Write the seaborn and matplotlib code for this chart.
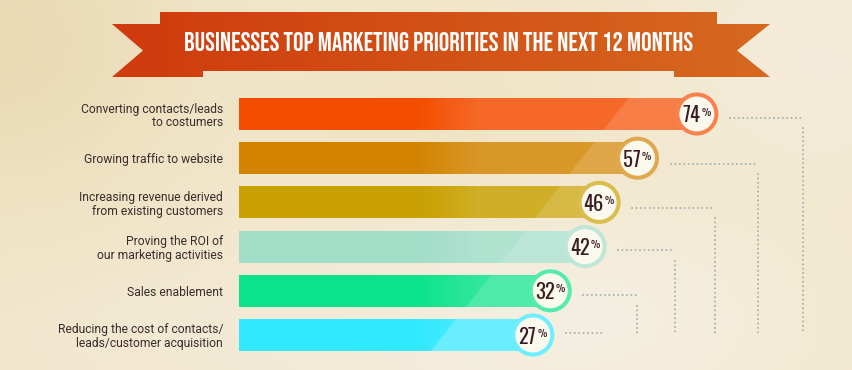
import numpy as np
import pandas as pd
import matplotlib
matplotlib.use("Agg")
import matplotlib.pyplot as plt
import seaborn as sns
from matplotlib.patches import Polygon
from matplotlib.colors import to_rgb
from matplotlib import font_manager as fm
from matplotlib.textpath import TextPath

# ---------------- data ----------------
categories = [
    "Converting contacts/leads\nto costumers",
    "Growing traffic to website",
    "Increasing revenue derived\nfrom existing customers",
    "Proving the ROI of\nour marketing activities",
    "Sales enablement",
    "Reducing the cost of contacts/\nleads/customer acquisition",
]
values = [74, 57, 46, 42, 32, 27]
value_labels = ["74", "57", "46", "42", "32", "27"]
bar_colors = ["#F44D00", "#D28400", "#C8A000", "#A2DDC8", "#0BE38A", "#30E8FF"]
title = "BUSINESSES TOP MARKETING PRIORITIES IN THE NEXT 12 MONTHS"

# ---------------- layout / style ----------------
W, H, DPI = 852, 370, 100
PT = 72 / DPI                   # points per pixel
PX0, PXS = 438.6, 3.49          # value -> pixel mapping of the reference
ROW0, ROWS = 114.0, 44.2        # row centre pixel mapping
BASE = (239 - PX0) / PXS        # bars start at the left edge of axes
XMAX = (W - PX0) / PXS
conn_end = [104.4, 91.5, 79.2, 67.7, 56.8, 47.7]
conn_dy = [0.08, 0.12, 0.12, 0.08, 0.1, -0.05]
BOTTOM_Y = 4.95
DOT_COLOR = "#A7B5AE"

_avail = {f.name for f in fm.fontManager.ttflist}
def pick(*cands):
    return [c for c in cands if c in _avail] + ["DejaVu Sans"]
TITLE_FONT = pick("Bebas Neue", "Oswald", "Liberation Sans Narrow")
NUM_FONT = pick("Oswald", "Pathway Gothic One", "Bebas Neue", "Liberation Sans Narrow")
NUM_WEIGHT = "light" if NUM_FONT[0] == "Oswald" else "normal"
LABEL_FONT = pick("Roboto", "Noto Sans")

def ink(s, family, weight="normal", size=100.0):
    p = TextPath((0, 0), s, size=size, prop=fm.FontProperties(family=family, weight=weight))
    e = p.get_extents()
    return e.width / size, e.height / size

sns.set_theme(style="white")
plt.rcParams["font.family"] = LABEL_FONT

fig = plt.figure(figsize=(W / DPI, H / DPI), dpi=DPI)

# ---------------- background (pixel coordinates) ----------------
bg = fig.add_axes([0, 0, 1, 1], zorder=0)
bg.set_xlim(0, W); bg.set_ylim(H, 0); bg.axis("off")
yy, xx = np.mgrid[0:H:2, 0:W:2].astype(float)
base = np.array(to_rgb("#F2E7CC"))
img = np.ones(xx.shape + (3,)) * base
def blob(cx, cy, rx, ry, col, strength):
    w = strength * np.exp(-(((xx - cx) / rx) ** 2 + ((yy - cy) / ry) ** 2))
    return w[..., None], np.array(to_rgb(col))
for cx, cy, rx, ry, col, s in [
    (0, 40, 180, 160, "#E8D7AE", 0.8),
    (560, 320, 260, 120, "#F5F0E4", 0.9),
    (820, 60, 160, 120, "#F4EEDF", 0.7),
    (250, 330, 200, 60, "#F2EBDA", 0.6),
    (420, 110, 140, 90, "#EEE0BE", 0.5),
]:
    w, c = blob(cx, cy, rx, ry, col, s)
    img = img * (1 - w) + c * w
bg.imshow(img, extent=(0, W, H, 0), aspect="auto", interpolation="bilinear", zorder=0)

# ---------------- banner ----------------
grad = np.linspace(0, 1, 256)[None, :, None]
c_l, c_r = np.array(to_rgb("#CF3A0E")), np.array(to_rgb("#D6691F"))
grad_img = c_l * (1 - grad) + c_r * grad
shapes = [
    [(112, 24), (203, 24), (203, 77), (112, 77), (143, 50.5)],
    [(674, 24), (770, 24), (737, 50.5), (770, 77), (674, 77)],
    [(160, 12), (717, 12), (717, 71), (160, 71)],
]
for k, pts in enumerate(shapes):
    poly = Polygon(pts, closed=True, facecolor="none", edgecolor="none")
    bg.add_patch(poly)
    im = bg.imshow(grad_img, extent=(112, 770, 77, 12), aspect="auto",
                   interpolation="bilinear", zorder=1 + k)
    im.set_clip_path(poly)
bg.set_xlim(0, W); bg.set_ylim(H, 0)

tw, th = ink(title, TITLE_FONT)
t_px = min(504 / tw, 19.5 / th)          # font size in px fitting width / cap height
bg.text(439, 42 + th * t_px / 2, title, color="white", ha="center", va="baseline",
        family=TITLE_FONT, fontsize=t_px * PT, zorder=5)

# ---------------- main chart ----------------
y_top, y_bot = ROW0 - ROWS / 2, ROW0 + 5 * ROWS + ROWS / 2
ax = fig.add_axes([239 / W, 1 - y_bot / H, (W - 239) / W, (y_bot - y_top) / H], zorder=2)
ax.patch.set_alpha(0)

df = pd.DataFrame({"cat": categories, "val": values})
sns.barplot(data=df, x="val", y="cat", hue="cat", palette=bar_colors, saturation=1,
            orient="h", legend=False, width=0.72, ax=ax)

bars = sorted(ax.patches, key=lambda p: p.get_y())
for p, v in zip(bars, values):
    p.set_x(BASE)
    p.set_width(v - BASE)
    p.set_edgecolor("none")

def light(c, a):
    c = np.array(to_rgb(c))
    return tuple(c + (1 - c) * a)

# gloss overlays
for i, (p, v) in enumerate(zip(bars, values)):
    y0, y1 = p.get_y(), p.get_y() + p.get_height()
    gx = np.linspace(BASE, v, 300)
    gy = np.linspace(y0, y1, 40)
    GX, GY = np.meshgrid(gx, gy)
    PX = PX0 + PXS * GX
    PY = ROW0 + ROWS * GY
    ramp = np.clip((PX - 415) / 65, 0, 1) * 0.16
    step = np.clip((PX - (628 - 0.78 * (PY - 97))) / 2.0, 0, 1) * 0.28
    alpha = np.maximum(ramp, step)
    rgba = np.ones(GX.shape + (4,))
    rgba[..., 3] = alpha
    im = ax.imshow(rgba, extent=(BASE, v, y1, y0), aspect="auto",
                   interpolation="bilinear", zorder=2)
    im.set_clip_path(p)

# dotted connectors
for i, v in enumerate(values):
    yc = (i + conn_dy[i]) if i < len(values) - 1 else BOTTOM_Y
    ax.plot([v + 9.5, conn_end[i]], [yc, yc], color=DOT_COLOR, lw=1.5,
            ls=(0, (0.01, 2.1)), dash_capstyle="round", zorder=1)
    if i < len(values) - 1:
        ax.plot([conn_end[i], conn_end[i]], [yc + 0.24, BOTTOM_Y], color=DOT_COLOR,
                lw=1.5, ls=(0, (0.01, 2.1)), dash_capstyle="round", zorder=1)

# circles with values
edge_cols = [light(c, 0.3) for c in bar_colors]
ax.scatter(values, range(len(values)), s=790, facecolor="#FBF8EE",
           edgecolors=edge_cols, linewidths=2.9, zorder=4)

DIG_H, PCT_H, PCT_W, GAP = 17.0, 12.0, 8.5, 1.0
_, dh = ink("0123456789", NUM_FONT, NUM_WEIGHT)
pw1, ph1 = ink("%", NUM_FONT, NUM_WEIGHT)
d_px = DIG_H / dh
p_px = min(PCT_H / ph1, PCT_W / pw1)
p_h = ph1 * p_px
for i, (v, lab) in enumerate(zip(values, value_labels)):
    wn = ink(lab, NUM_FONT, NUM_WEIGHT)[0] * d_px
    wp = pw1 * p_px
    left = -(wn + GAP + wp) / 2
    ax.annotate(lab, (v, i), xytext=((left + wn) * PT, -DIG_H / 2 * PT),
                textcoords="offset points", ha="right", va="baseline",
                family=NUM_FONT, weight=NUM_WEIGHT, fontsize=d_px * PT,
                color="#3A1C24", zorder=5)
    ax.annotate("%", (v, i), xytext=((left + wn + GAP) * PT, (DIG_H / 2 - 1.5 - p_h) * PT),
                textcoords="offset points", ha="left", va="baseline",
                family=NUM_FONT, weight=NUM_WEIGHT, fontsize=p_px * PT,
                color="#3A1C24", zorder=5)

ax.set_xlim(BASE, XMAX)
ax.set_ylim(5.5, -0.5)
ax.set_xlabel(""); ax.set_ylabel("")
ax.set_xticks([])
ax.tick_params(axis="y", length=0, pad=11.5, labelsize=8.7, labelcolor="#3A2C2C")
for tl in ax.get_yticklabels():
    tl.set_linespacing(1.1)
    tl.set_family(LABEL_FONT)
sns.despine(ax=ax, left=True, bottom=True)

fig.savefig("out.png", dpi=DPI)
